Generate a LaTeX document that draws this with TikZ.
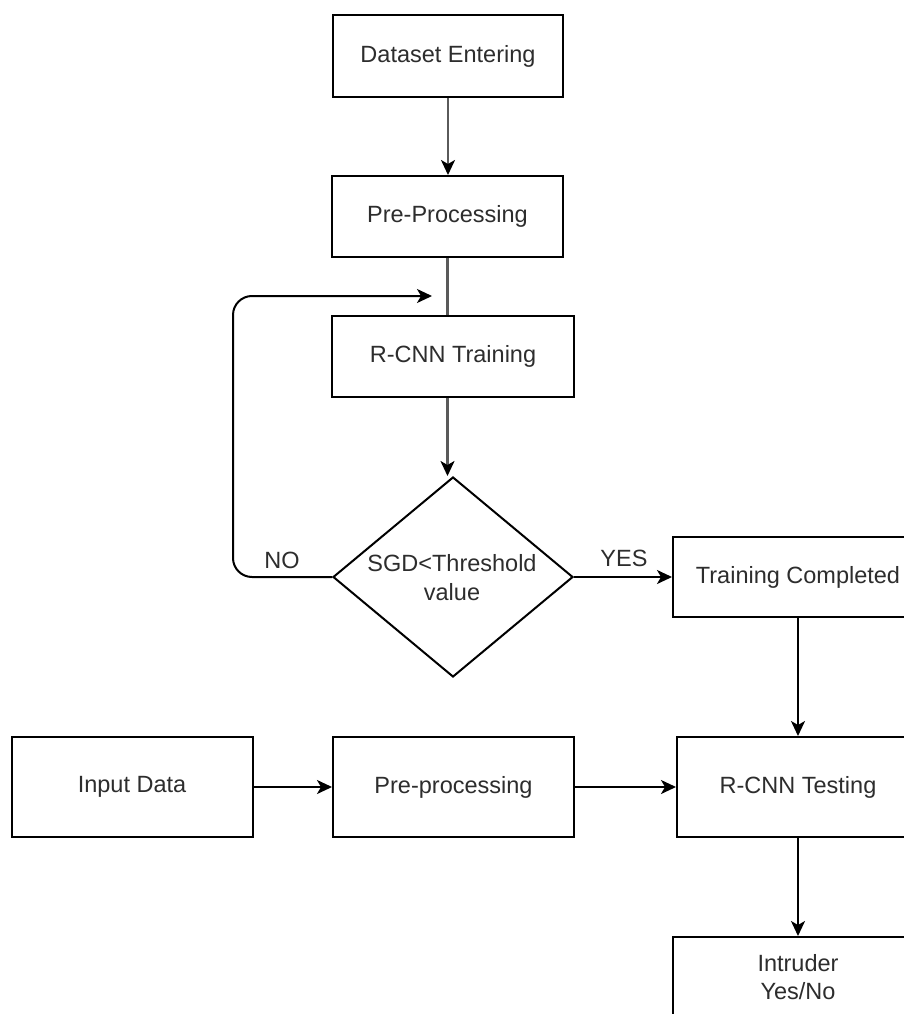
\documentclass[tikz,border=0pt]{standalone}
\usepackage{fontspec}
\setmainfont{Liberation Sans}
\usetikzlibrary{arrows.meta,shapes.geometric}
\definecolor{lgray}{RGB}{90,90,90}
\definecolor{txt}{RGB}{45,45,45}
\begin{document}
\begin{tikzpicture}[x=1pt,y=-1pt,
  box/.style n args={2}{draw=black,line width=2pt,fill=white,minimum width=#1pt,minimum height=#2pt,inner sep=0pt,align=center,font=\fontsize{23.5}{28}\selectfont,text=txt},
  dia/.style={diamond,draw=black,line width=2pt,fill=white,minimum width=240pt,minimum height=200pt,inner sep=0pt},
  txtnode/.style={align=center,font=\fontsize{23.5}{29}\selectfont,text=txt,inner sep=0pt},
  arr/.style={line width=2pt,draw=black,-{Stealth[length=15pt,width=14pt,inset=4pt]}},
  garr/.style={line width=2.2pt,draw=lgray,-{Stealth[length=15pt,width=14pt,inset=4pt,color=black]}},
  gline/.style={line width=2.2pt,draw=lgray}]
\useasboundingbox (0,0) rectangle (904,1014);
\clip (0,0) rectangle (904,1014);

\node[box={230}{82}] (ds) at (448,56) {Dataset Entering};
\node[box={231}{81}] (pp1) at (447.5,216.5) {Pre-Processing};
\node[box={242}{81}] (tr) at (453,356.5) {R-CNN Training};
\node[dia] (sgd) at (453,577) {};
\node[txtnode] (sgdt) at (452,578) {SGD<Threshold\\value};
\node[box={250}{80}] (tc) at (798,577) {Training Completed};
\node[box={241}{100}] (in) at (132,787) {Input Data};
\node[box={241}{100}] (pp2) at (453.5,787) {Pre-processing};
\node[box={242}{100}] (te) at (798,787) {R-CNN Testing};
\node[box={250}{80}] (intr) at (798,977) {Intruder\\Yes/No};

\coordinate (lc) at (233,296);
\coordinate (loopend) at (432,296);

\draw[garr] (ds.south) -- (ds.south |- pp1.north);
\draw[gline] (pp1.south) -- (pp1.south |- tr.north);
\draw[garr] (pp1.south |- tr.south) -- (pp1.south |- sgd.north);
\draw[arr,rounded corners=19pt] (sgd.west) -| (lc) -- (loopend);
\draw[arr] (sgd.east) -- (tc.west);
\draw[arr] (tc.south) -- (te.north);
\draw[arr] (in.east) -- (pp2.west);
\draw[arr] (pp2.east) -- (te.west);
\draw[arr] (te.south) -- (intr.north);

\node[txtnode] (no) at (282,560) {NO};
\node[txtnode] (yes) at (624,558) {YES};
\end{tikzpicture}
\end{document}
